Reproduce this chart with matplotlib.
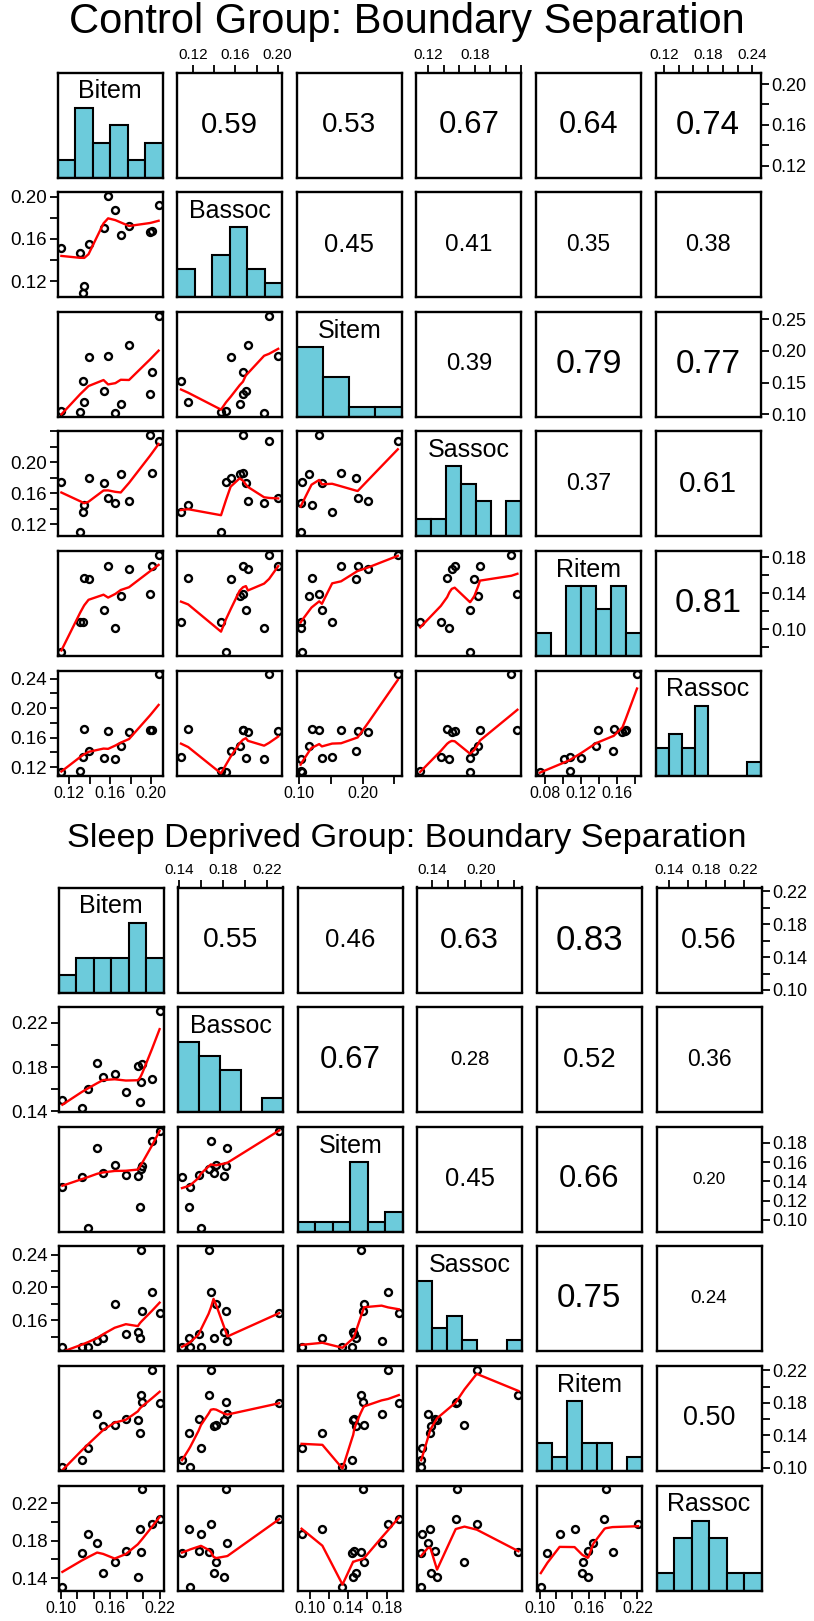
import numpy as np
import matplotlib
matplotlib.use('Agg')
import matplotlib.pyplot as plt
from matplotlib import font_manager

plt.rcParams['font.family'] = ['Liberation Sans', 'DejaVu Sans']

names = ['Bitem', 'Bassoc', 'Sitem', 'Sassoc', 'Ritem', 'Rassoc']

# control group, one value per subject (same subject order in every list)
ctrl_Bitem = [0.1122, 0.1307, 0.1337, 0.1346, 0.1388, 0.1535, 0.1580, 0.1651, 0.1704, 0.1785, 0.1990, 0.2012, 0.2075]
ctrl_Bassoc = [0.1512, 0.1465, 0.1087, 0.1155, 0.1556, 0.1700, 0.2005, 0.1872, 0.1641, 0.1719, 0.1669, 0.1672, 0.1919]
ctrl_Sitem = [0.1048, 0.1028, 0.1520, 0.1194, 0.1902, 0.1358, 0.1924, 0.1021, 0.1158, 0.2091, 0.1315, 0.1661, 0.2558]
ctrl_Sassoc = [0.1744, 0.1097, 0.1363, 0.1444, 0.1795, 0.1739, 0.1542, 0.1474, 0.1846, 0.1504, 0.2350, 0.1867, 0.2273]
ctrl_Ritem = [0.0746, 0.1077, 0.1080, 0.1565, 0.1560, 0.1209, 0.1697, 0.1017, 0.1370, 0.1664, 0.1389, 0.1700, 0.1826]
ctrl_Rassoc = [0.1138, 0.1152, 0.1340, 0.1716, 0.1415, 0.1321, 0.1683, 0.1313, 0.1491, 0.1670, 0.1702, 0.1705, 0.2458]
# correlations printed in the upper panels, row by row
ctrl_cor = [0.59, 0.53, 0.67, 0.64, 0.74,
            0.45, 0.41, 0.35, 0.38,
            0.39, 0.79, 0.77,
            0.37, 0.61,
            0.81]
ctrl_step = [0.02, 0.02, 0.05, 0.02, 0.02, 0.02]
ctrl_xlab = [[0.12, 0.16, 0.20], [0.12, 0.16, 0.20], [0.10, 0.20], [0.12, 0.18], [0.08, 0.12, 0.16], [0.12, 0.18, 0.24]]
ctrl_ylab = [[0.12, 0.16, 0.20], [0.12, 0.16, 0.20], [0.10, 0.15, 0.20, 0.25], [0.12, 0.16, 0.20], [0.10, 0.14, 0.18], [0.12, 0.16, 0.20, 0.24]]

# sleep deprived group
sd_Bitem = [0.1016, 0.1250, 0.1330, 0.1439, 0.1512, 0.1653, 0.1789, 0.1935, 0.1959, 0.1975, 0.1991, 0.2108, 0.2200]
sd_Bassoc = [0.1500, 0.1427, 0.1599, 0.1839, 0.1713, 0.1737, 0.1577, 0.1812, 0.1487, 0.1668, 0.1824, 0.1689, 0.2308]
sd_Sitem = [0.1342, 0.1442, 0.0917, 0.1748, 0.1484, 0.1566, 0.1463, 0.1453, 0.1133, 0.1532, 0.1559, 0.1816, 0.1927]
sd_Sassoc = [0.1270, 0.1272, 0.1280, 0.1352, 0.1389, 0.1797, 0.1438, 0.1463, 0.1380, 0.2453, 0.1707, 0.1946, 0.1690]
sd_Ritem = [0.1010, 0.1091, 0.1242, 0.1658, 0.1519, 0.1527, 0.1597, 0.1588, 0.1426, 0.1894, 0.1812, 0.2208, 0.1795]
sd_Rassoc = [0.1310, 0.1673, 0.1869, 0.1780, 0.1460, 0.1577, 0.1694, 0.1417, 0.1922, 0.1681, 0.2349, 0.1976, 0.2029]
sd_cor = [0.55, 0.46, 0.63, 0.83, 0.56,
          0.67, 0.28, 0.52, 0.36,
          0.45, 0.66, 0.20,
          0.75, 0.24,
          0.50]
sd_step = [0.02, 0.02, 0.02, 0.02, 0.02, 0.02]
sd_xlab = [[0.10, 0.16, 0.22], [0.14, 0.18, 0.22], [0.10, 0.14, 0.18], [0.14, 0.20], [0.10, 0.16, 0.22], [0.14, 0.18, 0.22]]
sd_ylab = [[0.10, 0.14, 0.18, 0.22], [0.14, 0.18, 0.22], [0.10, 0.12, 0.14, 0.16, 0.18], [0.16, 0.20, 0.24], [0.10, 0.14, 0.18, 0.22], [0.14, 0.18, 0.22]]

W, H = 814, 1621
PITCH = 119.6
BOX = 105
HIST_COL = '#6ccbdb'

# x axis numbers in the original are set narrow; use a condensed face if there is one
installed = set(f.name for f in font_manager.fontManager.ttflist)
NARROW = None
for fam in ['Liberation Sans Narrow', 'DejaVu Sans Condensed']:
    if fam in installed:
        NARROW = fam
        break
if NARROW is None:
    NARROW = 'Liberation Sans'
    TOP_FS, BOT_FS = 11, 11.5
else:
    TOP_FS, BOT_FS = 12, 13


def pretty_breaks(v, n=5):
    # same rule as R's pretty(), used by hist()
    lo, hi = min(v), max(v)
    cell = (hi - lo) / n
    U = 10 ** np.floor(np.log10(cell))
    unit = U
    if 2 * U - cell < 1.5 * (cell - unit):
        unit = 2 * U
        if 5 * U - cell < 2.75 * (cell - unit):
            unit = 5 * U
            if 10 * U - cell < 1.5 * (cell - unit):
                unit = 10 * U
    ns = np.floor(lo / unit + 1e-7)
    nu = np.ceil(hi / unit - 1e-7)
    return np.arange(ns, nu + 1) * unit


def hist_counts(v, br):
    v = np.asarray(v)
    c = []
    for k in range(len(br) - 1):
        if k == 0:
            c.append(np.sum((v >= br[0] - 1e-9) & (v <= br[1] + 1e-9)))
        else:
            c.append(np.sum((v > br[k] + 1e-9) & (v <= br[k + 1] + 1e-9)))
    return np.array(c, float)


def lowess(x, y, f=2 / 3, iters=3):
    idx = np.argsort(x, kind='mergesort')
    x = np.asarray(x, float)[idx]
    y = np.asarray(y, float)[idx]
    n = len(x)
    ns = max(2, min(n, int(f * n + 1e-7)))
    rw = np.ones(n)
    fit = np.zeros(n)
    for it in range(iters + 1):
        nleft, nright = 0, ns - 1
        for i in range(n):
            while nright < n - 1 and x[i] - x[nleft] > x[nright + 1] - x[i]:
                nleft += 1
                nright += 1
            h = max(x[i] - x[nleft], x[nright] - x[i])
            d = np.abs(x - x[i])
            w = np.zeros(n)
            if h > 0:
                inside = d <= 0.999 * h
                w[inside] = (1 - (d[inside] / h) ** 3) ** 3
                w[d <= 0.001 * h] = 1
            else:
                w[d == 0] = 1
            w = w * rw
            if w.sum() <= 0:
                fit[i] = y[i]
                continue
            w = w / w.sum()
            a = (w * x).sum()
            b = (w * (x - a) ** 2).sum()
            if np.sqrt(b) > 0.001 * (x[-1] - x[0]):
                w = w * (1 + (x[i] - a) * (x - a) / b)
            fit[i] = (w * y).sum()
        if it == iters:
            break
        res = y - fit
        cmad = 6 * np.median(np.abs(res))
        if cmad < 1e-7 * np.mean(np.abs(y)):
            break
        r = np.abs(res) / cmad
        rw = np.where(r <= 0.001, 1.0, np.where(r < 0.999, (1 - r ** 2) ** 2, 0.0))
    return x, fit


def tick_vals(lim, step):
    a = np.ceil(lim[0] / step - 1e-9)
    b = np.floor(lim[1] / step + 1e-9)
    return np.arange(a, b + 1) * step


def tick_text(ticks, labels):
    out = []
    for t in ticks:
        out.append('%.2f' % t if any(abs(t - l) < 1e-6 for l in labels) else '')
    return out


def draw_group(fig, top, left, data, cors, steps, xlab, ylab):
    rng = []
    for v in data:
        lo, hi = min(v), max(v)
        pad = 0.04 * (hi - lo)
        rng.append((lo - pad, hi + pad))
    cm = np.zeros((6, 6))
    k = 0
    for i in range(6):
        for j in range(i + 1, 6):
            cm[i, j] = cors[k]
            k += 1

    for i in range(6):
        for j in range(6):
            x0 = left + j * PITCH
            y0 = top + i * PITCH
            ax = fig.add_axes([x0 / W, 1 - (y0 + BOX) / H, BOX / W, BOX / H])
            for s in ax.spines.values():
                s.set_linewidth(1.7)
            ax.set_xticks([])
            ax.set_yticks([])
            ax.tick_params(length=5.5, width=1.3, pad=2, labelsize=13.5)

            if i == j:
                br = pretty_breaks(data[i])
                cnt = hist_counts(data[i], br)
                ax.bar(br[:-1], cnt / cnt.max(), width=np.diff(br), align='edge',
                       color=HIST_COL, edgecolor='black', linewidth=1.5)
                ax.set_xlim(br[0], br[-1])
                ax.set_ylim(0, 1.5)
                ax.text(0.5, 0.82, names[i], transform=ax.transAxes,
                        ha='center', va='center', fontsize=18)
                continue

            ax.set_xlim(rng[j])
            ax.set_ylim(rng[i])
            if i > j:
                ax.plot(data[j], data[i], 'o', ms=5, mfc='none', mec='black', mew=1.7)
                lx, ly = lowess(data[j], data[i])
                ax.plot(lx, ly, color='red', lw=1.7)
            else:
                r = cm[i, j]
                ax.text(0.5, 0.5, '%.2f' % r, transform=ax.transAxes,
                        ha='center', va='center', fontsize=27.5 * np.sqrt(r))

            if i == 0 and j % 2 == 1:
                t = tick_vals(rng[j], steps[j])
                ax.set_xticks(t)
                ax.set_xticklabels(tick_text(t, xlab[j]), family=NARROW, fontsize=TOP_FS)
                ax.tick_params(axis='x', top=True, labeltop=True, bottom=False, labelbottom=False)
            if i == 5 and j % 2 == 0:
                t = tick_vals(rng[j], steps[j])
                ax.set_xticks(t)
                ax.set_xticklabels(tick_text(t, xlab[j]), family=NARROW, fontsize=BOT_FS)
            if j == 0 and i % 2 == 1:
                t = tick_vals(rng[i], steps[i])
                ax.set_yticks(t)
                ax.set_yticklabels(tick_text(t, ylab[i]))
            if j == 5 and i % 2 == 0:
                t = tick_vals(rng[i], steps[i])
                ax.set_yticks(t)
                ax.set_yticklabels(tick_text(t, ylab[i]), fontsize=13)
                ax.tick_params(axis='y', right=True, labelright=True, left=False, labelleft=False)


fig = plt.figure(figsize=(W / 100, H / 100), dpi=100)

ctrl = [ctrl_Bitem, ctrl_Bassoc, ctrl_Sitem, ctrl_Sassoc, ctrl_Ritem, ctrl_Rassoc]
sd = [sd_Bitem, sd_Bassoc, sd_Sitem, sd_Sassoc, sd_Ritem, sd_Rassoc]

fig.text(0.5, 1 - 22 / H, 'Control Group: Boundary Separation', ha='center', va='center', fontsize=30)
draw_group(fig, 72.5, 57.5, ctrl, ctrl_cor, ctrl_step, ctrl_xlab, ctrl_ylab)

fig.text(0.5, 1 - 838 / H, 'Sleep Deprived Group: Boundary Separation', ha='center', va='center', fontsize=24.7)
draw_group(fig, 887.5, 58.5, sd, sd_cor, sd_step, sd_xlab, sd_ylab)

fig.savefig('out.png', dpi=100)
